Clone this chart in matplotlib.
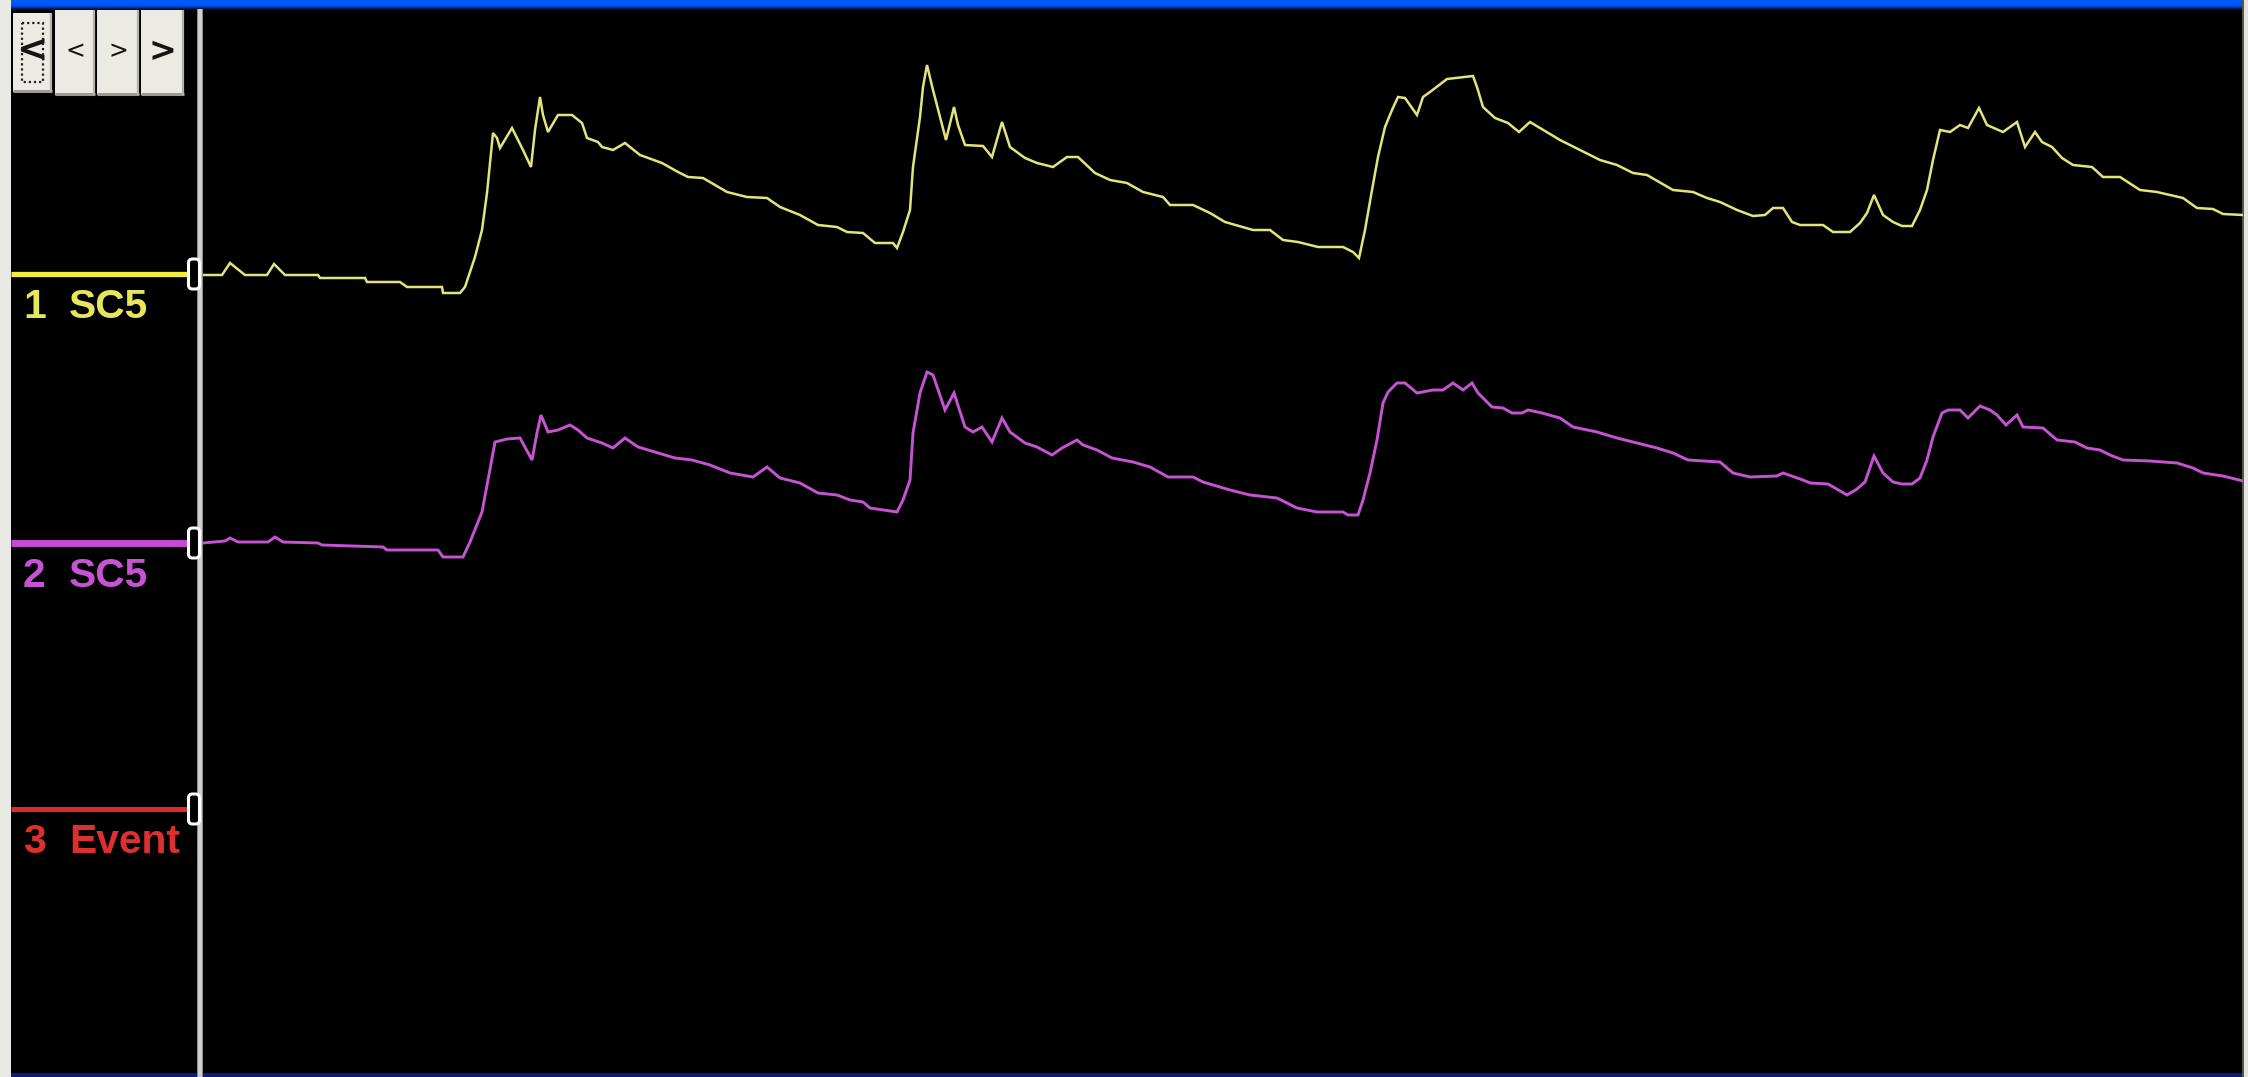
import numpy as np
import matplotlib
matplotlib.use("Agg")
import matplotlib.pyplot as plt
from matplotlib import font_manager
from matplotlib.font_manager import FontProperties
from matplotlib.patches import Rectangle, FancyBboxPatch

# ---------------- data ----------------
# channel 1 (SC5): time in s, amplitude in display counts above baseline
ch1_t = [0.00, 0.19, 0.27, 0.42, 0.64, 0.71, 0.82, 1.15, 1.17, 1.62, 1.64, 1.97, 2.04, 2.39, 2.40,
         2.57, 2.62, 2.72, 2.79, 2.84, 2.87, 2.90, 2.94, 2.97, 3.09, 3.20, 3.28, 3.32, 3.37, 3.40,
         3.45, 3.55, 3.69, 3.79, 3.84, 3.95, 3.99, 4.10, 4.22, 4.37, 4.59, 4.75, 4.85, 5.00, 5.12,
         5.24, 5.44, 5.64, 5.77, 5.97, 6.15, 6.34, 6.44, 6.60, 6.72, 6.90, 6.94, 7.00, 7.07, 7.10,
         7.17, 7.20, 7.24, 7.30, 7.37, 7.43, 7.51, 7.55, 7.62, 7.80, 7.89, 7.99, 8.07, 8.22, 8.34,
         8.50, 8.64, 8.75, 8.92, 9.07, 9.24, 9.40, 9.60, 9.67, 9.90, 10.07, 10.22, 10.50, 10.67,
         10.80, 10.95, 11.15, 11.40, 11.50, 11.56, 11.62, 11.69, 11.75, 11.82, 11.89, 11.95, 12.02,
         12.14, 12.20, 12.27, 12.44, 12.70, 12.74, 12.80, 12.92, 13.05, 13.16, 13.27, 13.37, 13.57,
         13.77, 13.97, 14.14, 14.30, 14.44, 14.70, 14.90, 15.04, 15.17, 15.34, 15.50, 15.62, 15.70,
         15.80, 15.89, 15.97, 16.20, 16.30, 16.47, 16.57, 16.64, 16.71, 16.80, 16.90, 16.99, 17.09,
         17.17, 17.24, 17.30, 17.37, 17.47, 17.57, 17.65, 17.76, 17.84, 18.00, 18.14, 18.22, 18.32,
         18.39, 18.49, 18.59, 18.70, 18.89, 19.00, 19.17, 19.37, 19.54, 19.80, 19.94, 20.10, 20.20,
         20.40]
ch1_v = [-1, -1, 11, -1, -1, 10, -1, -1, -4, -4, -8, -8, -13, -13, -19,
         -19, -13, 17, 44, 81, 111, 141, 136, 126, 146, 124, 107, 144, 177, 159,
         142, 159, 159, 151, 136, 132, 127, 124, 131, 119, 111, 102, 97, 96, 89,
         82, 77, 76, 67, 59, 49, 47, 42, 41, 31, 31, 26, 42, 64, 107,
         157, 187, 209, 184, 157, 134, 167, 149, 129, 128, 117, 152, 127, 116, 111,
         107, 117, 117, 101, 94, 91, 82, 77, 69, 69, 61, 52, 44, 44,
         34, 32, 27, 27, 22, 16, 44, 84, 117, 147, 164, 177, 176,
         159, 177, 182, 195, 198, 187, 167, 156, 151, 142, 152, 146, 134,
         124, 114, 109, 101, 99, 84, 82, 76, 72, 64, 58, 59, 66,
         66, 52, 49, 49, 42, 42, 51, 61, 79, 59, 52, 48, 48,
         64, 84, 114, 144, 142, 149, 146, 166, 149, 142, 152, 127, 142,
         132, 127, 116, 109, 107, 97, 97, 84, 82, 76, 66, 65, 60,
         59]

# channel 2 (SC5)
ch2_t = [0.00, 0.22, 0.27, 0.35, 0.65, 0.72, 0.80, 1.15, 1.19, 1.80, 1.84, 2.35, 2.40, 2.60, 2.67,
         2.79, 2.85, 2.92, 3.04, 3.17, 3.29, 3.34, 3.38, 3.45, 3.55, 3.67, 3.75, 3.84, 3.99, 4.10,
         4.22, 4.35, 4.55, 4.72, 4.89, 5.07, 5.27, 5.50, 5.64, 5.77, 5.97, 6.15, 6.34, 6.47, 6.60,
         6.67, 6.94, 7.00, 7.07, 7.10, 7.17, 7.24, 7.30, 7.42, 7.51, 7.62, 7.70, 7.79, 7.89, 7.99,
         8.07, 8.22, 8.34, 8.49, 8.59, 8.74, 8.80, 8.94, 9.09, 9.30, 9.47, 9.65, 9.90, 10.00, 10.10,
         10.27, 10.47, 10.74, 10.94, 11.14, 11.40, 11.45, 11.55, 11.60, 11.67, 11.74, 11.80, 11.85,
         11.94, 12.02, 12.14, 12.30, 12.40, 12.50, 12.60, 12.69, 12.75, 12.89, 13.00, 13.09, 13.19,
         13.25, 13.39, 13.57, 13.70, 13.94, 14.14, 14.34, 14.54, 14.70, 14.85, 15.17, 15.30, 15.47,
         15.74, 15.80, 16.00, 16.07, 16.25, 16.32, 16.44, 16.54, 16.62, 16.71, 16.80, 16.90, 16.99,
         17.09, 17.17, 17.24, 17.30, 17.39, 17.45, 17.57, 17.65, 17.77, 17.87, 17.94, 18.03, 18.14,
         18.20, 18.40, 18.54, 18.72, 18.84, 18.97, 19.07, 19.20, 19.47, 19.74, 19.90, 20.00, 20.20,
         20.40]
ch2_v = [0, 2, 5, 1, 1, 6, 1, 0, -2, -4, -7, -7, -14, -14, 1,
         31, 63, 101, 104, 105, 83, 110, 128, 111, 113, 118, 113, 105, 100, 95,
         105, 96, 90, 85, 83, 78, 70, 66, 76, 65, 60, 50, 48, 43, 41,
         35, 31, 43, 63, 110, 150, 171, 168, 133, 150, 116, 111, 116, 101, 125,
         111, 100, 96, 88, 95, 103, 98, 93, 85, 81, 76, 66, 66, 61, 58,
         53, 48, 45, 35, 31, 31, 28, 28, 43, 70, 103, 140, 151,
         160, 160, 150, 153, 153, 160, 153, 160, 150, 136, 135, 130, 130,
         133, 130, 125, 116, 111, 105, 100, 95, 90, 83, 81, 70, 66,
         67, 70, 63, 60, 59, 55, 48, 54, 61, 87, 70, 61, 59,
         59, 65, 83, 106, 130, 133, 133, 125, 137, 133, 128, 118, 128,
         116, 115, 103, 101, 95, 93, 88, 83, 82, 80, 75, 70, 67,
         62]

ch_numbers = ["1", "2", "3"]
ch_names = ["SC5", "SC5", "Event"]
ch_colors = ["#eeee40", "#c84ad2", "#e02a2a"]
label_colors = ["#e6e65a", "#c652d4", "#dc3030"]
trace_colors = ["#e4e47c", "#c654d2"]
button_glyphs = ["<", "<", ">", ">"]

# ---------------- figure ----------------
W, H = 2248, 1077
fig = plt.figure(figsize=(W / 100, H / 100), dpi=100, facecolor="black")

# prefer a narrow sans face for the channel labels when one is installed
label_fp = None
for f in font_manager.fontManager.ttflist:
    if f.name == "Liberation Sans Narrow" and f.weight in ("bold", 700):
        label_fp = FontProperties(fname=f.fname)
        break
narrow = label_fp is not None
if label_fp is None:
    label_fp = FontProperties(family="Liberation Sans", weight="bold")

# window chrome, drawn in pixel coordinates
bg = fig.add_axes([0, 0, 1, 1])
bg.set_xlim(0, W)
bg.set_ylim(H, 0)
bg.axis("off")
bg.add_patch(Rectangle((0, 0), W, H, facecolor="black", edgecolor="none", zorder=0))

# title-bar strip with a vertical fade
grad = np.array([[0.00, 0.36, 0.98], [0.00, 0.36, 0.98], [0.00, 0.35, 0.97], [0.00, 0.34, 0.96],
                 [0.00, 0.33, 0.94], [0.00, 0.31, 0.90], [0.00, 0.27, 0.80], [0.00, 0.20, 0.60],
                 [0.00, 0.11, 0.35], [0.00, 0.05, 0.16], [0.00, 0.02, 0.06], [0.0, 0.0, 0.0]])
bg.imshow(grad[:, None, :], extent=(11, 2243, 12, 0), aspect="auto",
          interpolation="bilinear", zorder=1)
bg.add_patch(Rectangle((11, 1073), 2232, 4, facecolor="#0c1a7a", edgecolor="none", zorder=1))
bg.add_patch(Rectangle((0, 0), 11, H, facecolor="#e9e9e4", edgecolor="none", zorder=2))
bg.add_patch(Rectangle((2243, 0), 5, H, facecolor="#e4e4df", edgecolor="none", zorder=2))
bg.add_patch(Rectangle((2242, 0), 1.5, H, facecolor="#55554f", edgecolor="none", zorder=2))

# vertical cursor / separator
bg.add_patch(Rectangle((197, 9), 6, H - 9, facecolor="#cfcfcf", edgecolor="none", zorder=3))
bg.add_patch(Rectangle((197, 9), 1.2, H - 9, facecolor="#8a8a8a", edgecolor="none", zorder=3))
bg.add_patch(Rectangle((202, 9), 1.2, H - 9, facecolor="#8a8a8a", edgecolor="none", zorder=3))

# scroll buttons
buttons = [(13, 13, 39, 79), (55, 10, 40, 85), (97, 10, 42, 85), (141, 10, 43, 85)]
glyph_sizes = [27, 17, 17, 24]
glyph_weights = ["bold", "normal", "normal", "bold"]
for (bx, by, bw, bh), g, gs, gw in zip(buttons, button_glyphs, glyph_sizes, glyph_weights):
    bg.add_patch(Rectangle((bx, by), bw, bh, facecolor="#ecebe3", edgecolor="none", zorder=4))
    bg.plot([bx, bx + bw], [by + bh - 1, by + bh - 1], color="#9c9a92", lw=2.2, zorder=5,
            solid_capstyle="butt")
    bg.plot([bx + bw - 1, bx + bw - 1], [by, by + bh], color="#b4b2aa", lw=1.6, zorder=5,
            solid_capstyle="butt")
    bg.text(bx + bw / 2, by + bh / 2 - 1, g, color="#151515", fontsize=gs, fontweight=gw,
            family="DejaVu Sans", ha="center", va="center", zorder=6)
bg.add_patch(Rectangle((22, 23), 21, 59, facecolor="none", edgecolor="#202020", lw=1.6,
                       linestyle=(0, (1, 1.3)), zorder=6))

# channel baselines, markers and labels
baselines = [274, 543, 809]
stub_widths = [3.8, 5.0, 3.6]
name_x = 71 if narrow else 69
label_texts = []
for yb, num, name, col, lcol, sw in zip(baselines, ch_numbers, ch_names, ch_colors,
                                        label_colors, stub_widths):
    bg.plot([11, 188], [yb, yb], color=col, lw=sw, solid_capstyle="butt", zorder=3)
    bg.add_patch(FancyBboxPatch((188.5, yb - 15), 11, 30, boxstyle="round,pad=0,rounding_size=4",
                                facecolor="black", edgecolor="white", lw=2.2, zorder=7))
    t_num = bg.text(23, yb + 44, num, color=lcol, fontproperties=label_fp, fontsize=30,
                    ha="left", va="baseline", zorder=7)
    t_name = bg.text(name_x, yb + 44, name, color=lcol, fontproperties=label_fp, fontsize=30,
                     ha="left", va="baseline", zorder=7)
    label_texts += [t_num, t_name]

# size the channel labels so "SC5" spans its column
fig.canvas.draw()
renderer = fig.canvas.get_renderer()
w_sc5 = label_texts[1].get_window_extent(renderer).width
target_w = 73.0 if narrow else 79.0
scale = target_w / w_sc5
for t in label_texts:
    t.set_fontsize(30 * scale)

# trace area
x0, x1, y0, y1 = 203, 2243, 9, 1074
ax = fig.add_axes([x0 / W, (H - y1) / H, (x1 - x0) / W, (y1 - y0) / H])
ax.set_facecolor("none")
ax.set_xlim(0, (x1 - x0) / 100)
ax.set_ylim(0, y1 - y0)
ax.axis("off")

offsets = [y1 - b for b in baselines]
ax.plot(ch1_t, np.asarray(ch1_v) + offsets[0], color=trace_colors[0], lw=1.8,
        solid_joinstyle="miter")
ax.plot(ch2_t, np.asarray(ch2_v) + offsets[1], color=trace_colors[1], lw=2.1,
        solid_joinstyle="miter")

fig.savefig("out.png", dpi=100, facecolor="black")
